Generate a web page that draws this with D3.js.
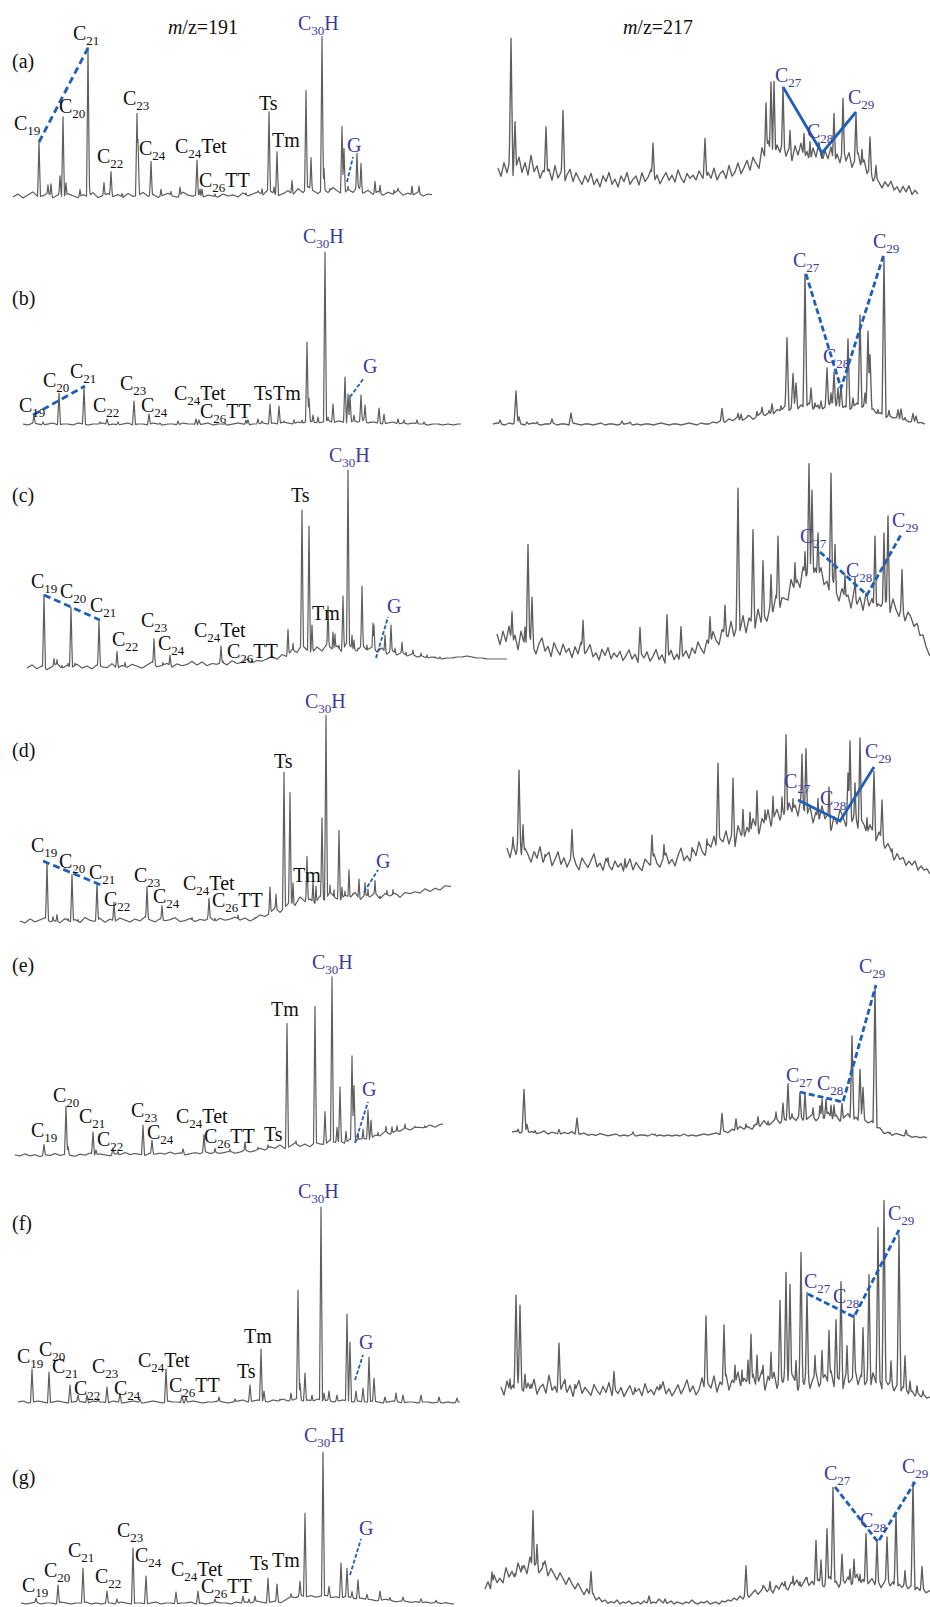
<!DOCTYPE html>
<html>
<head>
<meta charset="utf-8">
<script src="https://cdn.jsdelivr.net/npm/d3@7"></script>
<style>
  body { margin: 0; background: #fff; }
  text { font-family: "Liberation Serif", "Times New Roman", serif; }
</style>
</head>
<body>
<svg id="chart"></svg>
<script>
/* 行ラベル・質量電荷比 */
const rowTags = ["(a)", "(b)", "(c)", "(d)", "(e)", "(f)", "(g)"];
const ionTitles = ["191", "217"];

/* ---- (a) ---- scan 単位: [scan, 強度] */
const a191Span = [13, 432];
const a191Base = [[13, 0], [432, 2]];
const a191Peaks = [[39,58],[48,15],[51,16],[60,24],[63,83],[66,17],[80,10],[88,152],[89,20],[104,17],[111,28],[122,6],[137,86],[138,60],[151,38],[161,10],[171,8],[180,12],[197,39],[200,10],[202,10],[215,5],[246,6],[258,8],[262,10],[269,87],[274,12],[277,47],[292,18],[306,108],[308,12],[311,41],[322,162],[324,30],[330,10],[332,8],[342,72],[344,50],[348,12],[357,45],[361,35],[375,17],[380,13],[394,8],[398,10],[412,12],[419,12]];
const a191Noise = [3,6,2,5,8,3,4,7,2,5, 3,6,4,2,5,3,7,2,4,6, 3,5,2,6,3,4,7,3,5,2, 4,6,3,2,7,4,3,5,2,4, 3,2,5,3,4,2,6,3,5,7, 4,9,6,3,5,8,4,10,6,12, 8,5,9,6,11,7,4,9,6,12, 5,8,4,7,3,6,4,8,3,5, 3,6,2,4,3];
const a191Labels = [["C_19",14,70],["C_20",59,87],["C_21",73,160],["C_22",97,37],["C_23",123,95],["C_24",139,45],["C_24Tet",175,47],["C_26TT",199,13],["Ts",259,90],["Tm",272,53],["C_30H",298,170],["G",347,48]];
const a191Trend = [[39,58],[88,152]];
const a191G = [[347,18],[353,43]];

const a217Span = [33, 453];
const a217Base = [[33,20],[133,10],[290,18],[300,27],[317,30],[367,27],[400,20],[413,10],[453,0]];
const a217Peaks = [[46,143],[50,60],[81,58],[98,76],[188,44],[240,46],[301,70],[306,90],[309,90],[318,83],[325,40],[339,38],[345,30],[357,19],[369,60],[378,77],[391,65],[397,30],[405,47],[411,23]];
const a217Noise = [12,4,18,8,22,6,15,25,10,20,8,28,12,18,6,14, 10,16,5,20,8,14,3,12,18,6,15,9,4,13,7,16,5, 11,3,14,8,17,5,10,2,13,7,16,4,9,12,3,15,6, 10,18,5,12,3,9,14,6,11,4,16,8,3,12,7,10, 5,14,8,3,12,6,16,4,10,13,5,18,7,11,20,9,15, 22,12,25,18,10,28,15,32,20,12,26,18,30,14,22,10,25, 16,28,12,20,8,24,15,30,10,22,14,26,9,20,12,28, 15,24,10,18,26,12,20,8,16,5,12,8,3,10,6,12,4, 8,3,10,5,12,4,9,6];
const a217Labels = [["C_27",310,118],["C_28",342,62],["C_29",383,96]];
const a217Trend = [[318,113],[357,47],[391,88]];

/* ---- (b) ---- */
const b191Span = [23, 461];
const b191Base = [[23, 0], [461, 0]];
const b191Peaks = [[34,10],[43,3],[59,32],[84,37],[100,3],[107,6],[118,3],[134,24],[149,11],[160,2],[178,4],[196,6],[199,5],[225,2],[246,5],[248,5],[258,6],[262,4],[270,21],[279,19],[284,4],[294,5],[302,5],[307,83],[309,27],[313,10],[318,8],[325,173],[328,8],[333,21],[340,4],[345,48],[348,31],[350,30],[354,10],[361,30],[365,20],[370,3],[379,17],[384,11],[392,2],[398,6],[404,5],[417,5],[424,3]];
const b191Noise = [1,0,2,1,0,1,2,0,1,1, 0,2,1,0,1,1,2,0,1,0, 1,2,0,1,1,0,2,1,0,1, 1,0,2,1,1,0,1,2,0,1, 1,0,1,2,1,0,1,1,2,1, 2,1,3,2,1,3,2,4,3,2, 3,5,2,4,3,2,4,3,5,2, 3,2,1,2,3,1,2,1,2,1, 1,0,1,1,0,1,0,1];
const b191Labels = [["C_19",19,13],["C_20",43,38],["C_21",70,47],["C_22",93,13],["C_23",120,35],["C_24",141,13],["C_24Tet",174,25],["C_26TT",200,7],["Ts",254,25],["Tm",273,25],["C_30H",303,182],["G",363,52]];
const b191Trend = [[33,10],[85,39]];
const b191G = [[350,28],[364,47]];

const b217Span = [28, 460];
const b217Base = [[28,0],[250,0],[290,3],[310,8],[330,12],[400,12],[420,5],[460,0]];
const b217Peaks = [[35,5],[51,34],[54,8],[62,3],[72,3],[87,6],[106,12],[157,4],[165,3],[257,16],[273,10],[276,9],[283,7],[292,10],[297,13],[304,8],[307,14],[313,6],[316,10],[322,77],[328,40],[331,30],[340,139],[346,25],[350,10],[353,8],[356,12],[362,45],[366,20],[369,41],[373,25],[376,28],[383,74],[388,15],[395,98],[400,20],[403,83],[405,60],[413,8],[419,162],[424,10],[433,12],[436,13],[440,5],[448,10],[451,8]];
const b217Noise = [1,2,1,0,2,1,3,1,0,1, 2,1,0,1,1,2,0,1,1,0, 2,1,0,1,1,0,1,2,0,1, 1,0,1,1,2,0,1,0,1,1, 0,1,2,1,0,1,1,0,1,2, 1,0,2,1,1,3,2,4,2,5, 3,6,2,4,7,3,5,8,4,6, 3,7,5,9,4,6,3,8,5,10, 4,7,3,6,9,5,8,4,7,3, 6,10,5,8,4,7,3,6,2,5, 3,4,2,3,1,2,1,2,1];
const b217Labels = [["C_27",328,158],["C_28",358,62],["C_29",408,177]];
const b217Trend = [[341,151],[376,37],[419,171]];

/* ---- (c) ---- */
const c191Span = [27, 507];
const c191Base = [[27,0],[150,2],[250,6],[280,8],[300,12],[507,12]];
const c191Peaks = [[44,77],[54,13],[57,12],[62,6],[68,8],[71,64],[75,8],[99,50],[117,19],[125,8],[154,31],[163,7],[170,14],[176,4],[202,5],[221,21],[223,6],[241,4],[252,6],[262,4],[273,5],[288,33],[293,18],[302,150],[309,134],[312,35],[320,10],[328,54],[333,28],[335,26],[339,15],[343,64],[348,190],[352,25],[354,20],[358,12],[362,74],[367,15],[373,37],[374,35],[380,12],[385,25],[391,35],[395,12],[402,18],[406,8],[413,10],[421,7],[427,5],[435,3],[440,3]];
const c191Noise = [4,7,3,6,2,5,8,3,6,4, 7,3,5,2,6,4,3,7,2,5, 3,6,4,2,5,8,3,4,6,2, 5,3,4,7,3,6,2,4,3,5, 2,6,3,4,7,3,5,4,6,8, 5,9,6,12,8,15,10,7,13,9, 16,11,14,8,18,12,9,15,10,13, 8,12,6,10,5,8,4,6,3,4, 2,3,2,1,2,2,3,3,4,3, 2,2,1,1,1,1,1];
const c191Labels = [["C_19",31,84],["C_20",60,74],["C_21",90,60],["C_22",112,26],["C_23",141,45],["C_24",158,22],["C_24Tet",194,35],["C_26TT",227,14],["Ts",291,170],["Tm",312,52],["C_30H",329,210],["G",387,59]];
const c191Trend = [[44,77],[100,52]];
const c191G = [[376,14],[388,55]];

const c217Span = [32, 465];
const c217Base = [[32,20],[77,12],[133,9],[200,5],[233,10],[267,25],[300,35],[333,65],[350,78],[367,62],[383,55],[400,49],[433,42],[450,35],[458,25],[465,12]];
const c217Peaks = [[39,17],[47,43],[60,30],[63,113],[67,61],[118,42],[175,38],[202,52],[216,38],[245,40],[260,45],[273,157],[288,111],[298,77],[306,57],[313,89],[330,47],[340,50],[344,135],[347,106],[353,64],[366,136],[370,67],[380,41],[390,42],[402,30],[410,89],[419,94],[423,112],[437,62],[445,20],[453,15]];
const c217Noise = [18,8,22,12,28,10,20,6,25,14, 8,20,12,5,16,22,9,14,4,18, 11,6,17,9,13,4,15,8,20,7, 12,18,6,10,3,14,8,16,5,11, 7,13,4,9,15,6,11,3,12,8, 14,5,10,17,7,12,4,9,16,6, 11,3,8,13,5,15,9,20,12,6, 18,10,24,14,8,22,16,12,26,10, 20,14,28,10,24,18,12,30,16,22, 14,26,18,32,12,24,20,16,34,22, 28,18,36,24,30,15,26,20,32,18, 24,14,30,20,12,26,18,22,10,28, 16,24,12,30,18,26,14,22,20,28, 24,16,30,20,14,26,12,22,18,10, 16,8,12,6,4];
const c217Labels = [["C_27",335,129],["C_28",381,95],["C_29",427,145]];
const c217Trend = [[355,120],[402,77],[437,139]];

/* ---- (d) ---- */
const d191Span = [20, 451];
const d191Base = [[20,0],[250,2],[270,4],[300,12],[330,15],[360,17],[390,20],[420,25],[440,30],[451,35]];
const d191Peaks = [[47,62],[53,8],[57,10],[68,6],[72,50],[78,5],[97,41],[114,22],[120,6],[147,37],[162,18],[175,4],[192,6],[209,25],[215,5],[238,8],[255,5],[270,34],[276,25],[284,145],[290,123],[293,32],[300,15],[307,56],[313,30],[316,25],[322,93],[326,195],[330,25],[334,20],[339,79],[342,22],[345,18],[349,39],[353,15],[359,29],[365,25],[368,18],[375,26],[380,10],[387,15],[393,15],[398,8]];
const d191Noise = [4,2,6,3,5,7,3,4,2,6, 3,5,2,7,4,3,6,2,5,3, 6,4,2,5,3,7,4,2,5,3, 4,6,2,3,5,2,4,3,6,2, 5,3,4,6,3,5,2,4,7,5, 8,12,6,10,14,9,16,11,13,8, 15,10,18,12,9,14,11,16,8,13, 10,14,7,12,9,11,6,10,8,9, 7,10,6,8,5,7,4];
const d191Labels = [["C_19",31,73],["C_20",59,57],["C_21",89,46],["C_22",104,19],["C_23",134,43],["C_24",153,22],["C_24Tet",183,35],["C_26TT",212,18],["Ts",274,157],["Tm",293,43],["C_30H",305,217],["G",376,57]];
const d191Trend = [[43,64],[101,40]];
const d191G = [[364,33],[378,55]];

const d217Span = [42, 465];
const d217Base = [[42,62],[100,52],[167,48],[217,55],[250,63],[283,72],[317,88],[333,93],[367,82],[383,85],[400,78],[417,72],[430,58],[450,52],[465,47]];
const d217Peaks = [[48,27],[54,95],[58,41],[70,15],[80,15],[90,12],[107,44],[143,18],[160,18],[187,39],[199,28],[227,20],[242,25],[253,98],[268,79],[278,45],[285,40],[292,58],[300,35],[308,45],[317,40],[321,101],[328,35],[337,79],[341,86],[353,40],[364,55],[375,30],[383,67],[385,100],[390,60],[395,107],[402,30],[409,79],[417,53],[427,15],[432,12]];
const d217Noise = [15,6,20,10,25,8,18,12,5,16, 10,22,7,14,18,5,12,20,8,15, 6,13,19,9,4,16,11,7,14,21, 8,12,5,17,10,6,15,9,13,4, 11,18,7,14,9,5,16,12,8,20, 10,6,14,19,8,12,5,15,22,9, 13,7,18,11,24,14,9,20,16,26, 12,22,18,28,14,24,10,30,20,16, 26,18,32,22,14,28,20,34,16,24, 30,18,26,14,32,22,28,16,36,24, 20,30,14,26,18,34,22,28,12,26, 18,32,24,14,28,20,30,16,26,22, 14,24,18,10,20,14,8,16,12,6, 14,9,12,5,10,7,12,4,9,6, 8,4];
const d217Labels = [["C_27",319,137],["C_28",355,120],["C_29",400,167]];
const d217Trend = [[333,125],[375,104],[409,158]];

/* ---- (e) ---- */
const e191Span = [15, 443];
const e191Base = [[15,0],[250,3],[280,5],[320,8],[360,12],[387,19],[410,24],[443,29]];
const e191Peaks = [[44,12],[66,50],[68,10],[93,24],[96,6],[113,8],[118,4],[143,30],[152,15],[183,6],[204,20],[215,6],[230,5],[245,12],[258,6],[268,8],[287,128],[296,10],[315,143],[325,37],[332,171],[337,20],[340,60],[346,15],[352,90],[354,60],[358,12],[363,15],[368,33],[371,22],[378,8],[386,12],[392,10],[397,10],[405,10],[415,6],[425,5]];
const e191Noise = [2,1,3,1,2,0,2,1,3,1, 2,1,0,2,1,3,1,2,1,0, 2,1,3,1,2,1,0,2,1,2, 1,3,1,2,0,1,2,1,3,1, 2,1,2,3,1,2,4,2,3,5, 3,6,4,7,3,5,8,4,6,3, 7,5,4,8,5,6,3,7,4,6, 5,3,6,4,7,3,5,4,6,3, 5,4,3,5,2,4];
const e191Labels = [["C_19",31,20],["C_20",53,55],["C_21",79,34],["C_22",97,11],["C_23",131,40],["C_24",147,18],["C_24Tet",176,34],["C_26TT",204,14],["Ts",264,16],["Tm",271,141],["C_30H",312,188],["G",362,61]];
const e191Trend = [];
const e191G = [[355,14],[368,55]];

const e217Span = [47, 462];
const e217Base = [[47,23],[150,20],[250,20],[290,24],[317,28],[370,30],[407,28],[420,20],[462,18]];
const e217Peaks = [[53,5],[59,45],[62,10],[70,4],[80,3],[94,6],[112,18],[168,5],[190,3],[257,23],[271,16],[281,10],[289,8],[293,16],[298,10],[303,10],[311,18],[318,26],[323,45],[327,15],[335,36],[340,35],[348,20],[355,22],[357,28],[361,28],[366,22],[369,22],[377,24],[387,92],[395,59],[398,41],[410,143],[425,5],[432,4],[441,8]];
const e217Noise = [2,3,1,4,2,3,1,2,4,1, 3,2,1,3,2,4,1,2,3,1, 2,1,3,2,1,2,3,1,2,1, 3,1,2,2,1,3,1,2,1,2, 1,2,1,3,1,2,1,2,3,2, 3,4,2,5,3,6,4,8,5,7, 4,9,6,11,5,8,12,6,10,7, 12,8,14,6,10,13,7,11,9,15, 8,12,6,10,14,7,11,5,9,6, 8,4,6,3,5,2,4,3,2,3, 1,2,1,2,1];
const e217Labels = [["C_27",321,75],["C_28",352,67],["C_29",394,184]];
const e217Trend = [[335,65],[378,55],[411,172]];

/* ---- (f) ---- */
const f191Span = [18, 460];
const f191Base = [[18, 0], [460, 0]];
const f191Peaks = [[32,34],[49,31],[70,18],[78,8],[87,8],[98,5],[107,16],[120,10],[140,4],[166,34],[182,8],[186,6],[219,6],[235,4],[250,18],[261,54],[264,12],[280,4],[291,10],[298,113],[300,20],[305,30],[312,8],[321,196],[324,10],[329,12],[337,8],[347,89],[350,61],[356,12],[363,15],[369,46],[374,25],[385,6],[396,10],[403,8],[421,8],[439,6],[457,5]];
const f191Noise = [1,2,0,1,2,1,0,1,2,1, 0,1,2,1,0,2,1,1,0,2, 1,0,1,2,1,0,1,2,1,0, 2,1,1,0,1,2,1,0,1,1, 2,1,0,1,2,3,1,2,3,2, 1,3,2,4,2,3,5,2,3,2, 4,2,3,1,2,3,2,1,2,1, 1,2,1,0,1,2,1,0,1,1, 0,1,1,0,1,0,1,0,1];
const f191Labels = [["C_19",17,40],["C_20",39,47],["C_21",52,30],["C_22",74,8],["C_23",92,30],["C_24",114,8],["C_24Tet",138,36],["C_26TT",169,11],["Ts",237,25],["Tm",244,60],["C_30H",298,205],["G",359,54]];
const f191Trend = [];
const f191G = [[355,23],[363,48]];

const f217Span = [36, 465];
const f217Base = [[36,4],[465,2]];
const f217Peaks = [[45,20],[51,104],[55,94],[60,25],[66,15],[94,56],[100,20],[110,15],[149,28],[170,12],[195,15],[241,84],[259,75],[270,35],[277,30],[283,40],[286,66],[292,45],[298,35],[306,48],[315,100],[321,128],[325,116],[331,40],[336,148],[342,108],[350,45],[357,50],[364,70],[371,81],[376,119],[382,55],[389,86],[398,73],[404,126],[413,173],[419,200],[426,40],[434,166],[440,45],[445,20],[452,15],[458,10]];
const f217Noise = [12,4,18,8,14,5,22,10,6,16, 8,20,5,12,15,6,24,9,13,4, 10,18,7,14,3,11,19,6,12,8, 4,15,9,5,13,7,17,4,10,6, 12,3,9,14,5,8,11,4,16,7, 10,5,13,8,18,6,11,4,9,15, 6,12,20,8,14,5,10,22,9,16, 12,24,8,18,14,26,10,20,16,28, 12,22,18,8,26,14,20,30,10,24, 16,28,12,22,18,32,14,26,20,10, 24,16,30,12,22,28,14,20,26,18, 30,14,24,20,12,28,18,22,32,16, 26,14,20,10,28,18,24,12,22,16, 20,10,16,8,14,12,6,10,5,8, 4,6,3,4];
const f217Labels = [["C_27",339,115],["C_28",368,100],["C_29",423,183]];
const f217Trend = [[343,109],[389,86],[434,173]];

/* ---- (g) ---- */
const g191Span = [21, 454];
const g191Base = [[21,0],[280,0],[290,4],[320,6],[360,4],[400,2],[454,0]];
const g191Peaks = [[36,6],[58,19],[83,36],[107,13],[117,5],[133,56],[146,28],[176,12],[198,13],[215,5],[243,8],[249,5],[255,8],[268,26],[277,20],[291,6],[300,18],[305,86],[323,146],[329,12],[341,36],[347,31],[352,8],[358,20],[367,6],[380,10],[390,4],[403,5],[421,4],[436,3]];
const g191Noise = [1,0,1,2,0,1,1,0,2,1, 0,1,1,2,0,1,0,1,1,0, 2,1,0,1,1,0,1,2,0,1, 1,0,1,1,2,0,1,0,1,2, 1,1,0,2,1,2,1,3,2,1, 2,3,1,2,3,2,4,2,3,1, 2,3,1,2,1,3,2,1,2,1, 1,0,1,2,1,0,1,1,0,1, 0,1,0,1,0,1,0];
const g191Labels = [["C_19",22,12],["C_20",44,27],["C_21",68,47],["C_22",95,21],["C_23",117,67],["C_24",135,42],["C_24Tet",171,28],["C_26TT",201,11],["Ts",250,34],["Tm",272,37],["C_30H",304,162],["G",359,69]];
const g191Trend = [];
const g191G = [[350,29],[361,65]];

const g217Span = [20, 465];
const g217Base = [[20,7],[40,16],[65,22],[80,19],[100,14],[130,2],[150,0],[280,0],[300,4],[330,8],[380,10],[430,9],[465,7]];
const g217Peaks = [[27,22],[35,12],[42,15],[50,12],[57,18],[68,72],[72,39],[78,22],[85,15],[95,10],[126,29],[184,8],[200,5],[281,38],[290,12],[298,15],[305,18],[312,12],[320,16],[328,20],[335,14],[342,18],[351,55],[356,35],[362,66],[368,107],[377,40],[385,25],[389,35],[395,20],[401,61],[412,53],[422,58],[431,82],[440,25],[448,114],[457,30]];
const g217Noise = [8,14,4,18,9,12,6,20,10,15, 7,22,12,18,9,25,14,20,11,16, 24,10,18,13,8,16,11,6,14,9, 5,12,7,3,10,4,8,2,5,1, 3,0,2,1,4,0,2,1,3,0, 1,2,0,3,1,0,2,1,5,2, 0,1,3,0,2,1,0,2,1,4, 1,0,2,1,3,0,1,2,0,3, 2,4,3,6,4,8,5,10,6,9, 12,7,10,14,8,11,6,13,9,15, 10,7,14,11,16,8,12,18,10,14, 9,16,12,8,14,18,10,13,7,15, 11,17,9,13,20,10,15,8,12,16, 10,14,7,12,18,9,13,6,11,8, 12,7,10,5,9,6,8,4,6];
const g217Labels = [["C_27",359,124],["C_28",395,77],["C_29",437,131]];
const g217Trend = [[370,117],[413,62],[450,122]];

/* ノイズのサンプリング間隔 (scan) */
const noiseStep191 = [5, 5, 5, 5, 5, 5, 5];
const noiseStep217 = [3, 4, 3, 3, 4, 3, 3];

/* 行ごとにまとめる */
const rows = [
  { l: [a191Span, a191Base, a191Peaks, a191Noise, a191Labels, a191Trend, a191G], r: [a217Span, a217Base, a217Peaks, a217Noise, a217Labels, a217Trend] },
  { l: [b191Span, b191Base, b191Peaks, b191Noise, b191Labels, b191Trend, b191G], r: [b217Span, b217Base, b217Peaks, b217Noise, b217Labels, b217Trend] },
  { l: [c191Span, c191Base, c191Peaks, c191Noise, c191Labels, c191Trend, c191G], r: [c217Span, c217Base, c217Peaks, c217Noise, c217Labels, c217Trend] },
  { l: [d191Span, d191Base, d191Peaks, d191Noise, d191Labels, d191Trend, d191G], r: [d217Span, d217Base, d217Peaks, d217Noise, d217Labels, d217Trend] },
  { l: [e191Span, e191Base, e191Peaks, e191Noise, e191Labels, e191Trend, e191G], r: [e217Span, e217Base, e217Peaks, e217Noise, e217Labels, e217Trend] },
  { l: [f191Span, f191Base, f191Peaks, f191Noise, f191Labels, f191Trend, f191G], r: [f217Span, f217Base, f217Peaks, f217Noise, f217Labels, f217Trend] },
  { l: [g191Span, g191Base, g191Peaks, g191Noise, g191Labels, g191Trend, g191G], r: [g217Span, g217Base, g217Peaks, g217Noise, g217Labels, g217Trend] },
];

/* レイアウト */
const width = 930, height = 1607;
const rowBaseY = [200, 425, 672, 925, 1157, 1403, 1604];
const tagY = [68, 305, 502, 757, 972, 1230, 1484];

const traceColor = "#5e5e5e";
const labelBlue = "#3b3b9e";
const lineBlue = "#1f5fb8";

const svg = d3.select("#chart")
  .attr("width", width)
  .attr("height", height);

/* x 軸: 左 (m/z 191) と右 (m/z 217) */
const xLeft = d3.scaleLinear().domain([0, 465]).range([0, 465]);
const xRight = d3.scaleLinear().domain([0, 465]).range([465, 930]);

/* ピーク列 + ノイズ + ベースラインから波形を作る */
function buildTrace(span, base, peaks, noise, step, hw) {
  const baseAt = d3.scaleLinear()
    .domain(base.map(d => d[0]))
    .range(base.map(d => d[1]))
    .clamp(true);
  const noiseAt = s => {
    const i = (s - span[0]) / step;
    const k = Math.floor(i);
    const a = noise[Math.min(k, noise.length - 1)];
    const b = noise[Math.min(k + 1, noise.length - 1)];
    return a + (b - a) * (i - k);
  };
  const pts = [];
  for (let s = span[0]; s <= span[1]; s += 0.5) {
    let v = noiseAt(s);
    peaks.forEach(([p, h]) => {
      const d = Math.abs(s - p);
      if (d < hw) v = Math.max(v, h * (1 - d / hw));
    });
    pts.push([s, baseAt(s) + v]);
  }
  return pts;
}

function drawLabel(g, lab, x, y, color) {
  const [name, s, v] = lab;
  const t = g.append("text")
    .attr("x", x(s))
    .attr("y", y(v))
    .attr("font-size", 20)
    .attr("fill", color);
  const parts = name.split("_");
  if (parts.length === 1) { t.text(name); return; }
  const m = parts[1].match(/^(\d+)(.*)$/);
  t.append("tspan").text(parts[0]);
  t.append("tspan").attr("dy", 5).attr("font-size", 13).text(m[1]);
  if (m[2]) t.append("tspan").attr("dy", -5).text(m[2]);
}

/* 見出し m/z */
ionTitles.forEach((ion, i) => {
  const t = svg.append("text")
    .attr("x", i === 0 ? 203 : 658)
    .attr("y", 34)
    .attr("text-anchor", "middle")
    .attr("font-size", 20)
    .attr("fill", "#111");
  t.append("tspan").attr("font-style", "italic").text("m");
  t.append("tspan").text("/z=" + ion);
});

const solid217 = [0, 3];    // (a), (d) の右側は実線

rows.forEach((row, ri) => {
  const by = rowBaseY[ri];
  const y = d3.scaleLinear().domain([0, 250]).range([by, by - 250]);
  const g = svg.append("g").attr("class", "row-" + ri);

  g.append("text")
    .attr("x", 12)
    .attr("y", tagY[ri])
    .attr("font-size", 20)
    .attr("fill", "#111")
    .text(rowTags[ri]);

  /* 波形 */
  const [lSpan, lBase, lPeaks, lNoise, lLabels, lTrend, lG] = row.l;
  const [rSpan, rBase, rPeaks, rNoise, rLabels, rTrend] = row.r;

  const lineL = d3.line().x(d => xLeft(d[0])).y(d => y(d[1]));
  const lineR = d3.line().x(d => xRight(d[0])).y(d => y(d[1]));

  g.append("path")
    .datum(buildTrace(lSpan, lBase, lPeaks, lNoise, noiseStep191[ri], 1.5))
    .attr("d", lineL)
    .attr("fill", "none")
    .attr("stroke", traceColor)
    .attr("stroke-width", 1.2)
    .attr("stroke-linejoin", "round");

  g.append("path")
    .datum(buildTrace(rSpan, rBase, rPeaks, rNoise, noiseStep217[ri], 2))
    .attr("d", lineR)
    .attr("fill", "none")
    .attr("stroke", traceColor)
    .attr("stroke-width", 1.35)
    .attr("stroke-linejoin", "round");

  /* 青い補助線 */
  if (lTrend.length) {
    g.append("path")
      .datum(lTrend)
      .attr("d", lineL)
      .attr("fill", "none")
      .attr("stroke", lineBlue)
      .attr("stroke-width", 2.8)
      .attr("stroke-dasharray", "7,4");
  }
  g.append("path")
    .datum(lG)
    .attr("d", lineL)
    .attr("fill", "none")
    .attr("stroke", lineBlue)
    .attr("stroke-width", 1.8)
    .attr("stroke-dasharray", "4,2");
  g.append("path")
    .datum(rTrend)
    .attr("d", lineR)
    .attr("fill", "none")
    .attr("stroke", lineBlue)
    .attr("stroke-width", 2.8)
    .attr("stroke-dasharray", solid217.includes(ri) ? null : "6,3");

  /* ラベル */
  lLabels.forEach(lab => {
    const blue = lab[0] === "C_30H" || lab[0] === "G";
    drawLabel(g, lab, xLeft, y, blue ? labelBlue : "#111");
  });
  rLabels.forEach(lab => drawLabel(g, lab, xRight, y, labelBlue));
});
</script>
</body>
</html>
